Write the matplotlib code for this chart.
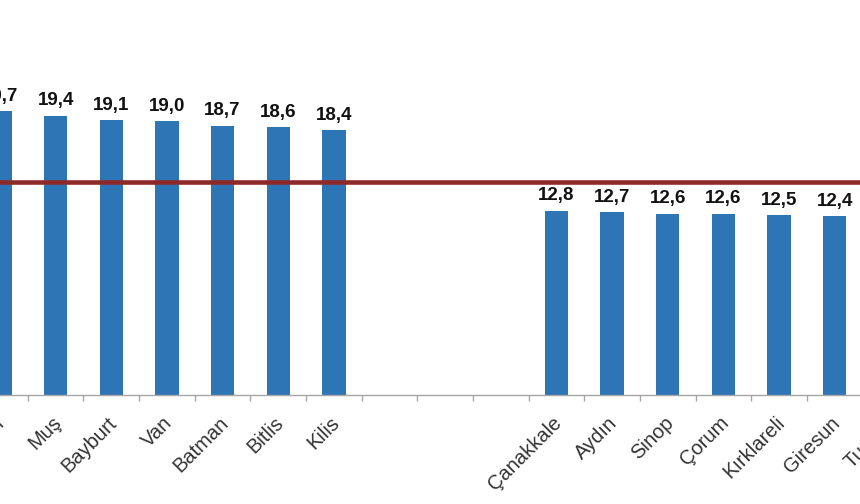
import matplotlib
matplotlib.use('Agg')
import matplotlib.pyplot as plt
from matplotlib.ticker import FixedLocator, NullFormatter

plt.rcParams['font.family'] = ['Liberation Sans', 'DejaVu Sans']

# --- data (chart is a cropped slice: left and right bars are cut by the frame) ---
provinces = ['Ağrı', 'Muş', 'Bayburt', 'Van', 'Batman', 'Bitlis', 'Kilis',
             '', '', '',
             'Çanakkale', 'Aydın', 'Sinop', 'Çorum', 'Kırklareli', 'Giresun', 'Tunceli']
values = [19.7, 19.4, 19.1, 19.0, 18.7, 18.6, 18.4,
          None, None, None,
          12.8, 12.7, 12.6, 12.6, 12.5, 12.4, 12.3]
turkey_avg = 14.8

BAR_COLOR = '#2E75B6'
AVG_COLOR = '#8E2929'

fig = plt.figure(figsize=(8.6, 5.04), dpi=100)
W, H = 860, 504
base_px = 395           # y pixel of the category axis
px_per_unit = 14.4
step = 55.65            # pixels between categories
x0 = 0.0                # pixel of first category centre

ax = fig.add_axes([0, (H - base_px) / H, 1, base_px / H])
ax.set_xlim(-x0 / step, (W - x0) / step)
ax.set_ylim(0, base_px / px_per_unit)

idx = [i for i, v in enumerate(values) if v is not None]
vals = [values[i] for i in idx]
ax.bar(idx, vals, width=0.42, color=BAR_COLOR, zorder=2)

ax.axhline(turkey_avg, color=AVG_COLOR, lw=3.3, zorder=3)

# value labels
for i, v in zip(idx, vals):
    ax.annotate(f'{v:.1f}'.replace('.', ','), xy=(i, v), xytext=(0, 7.5),
                textcoords='offset points', ha='center', va='baseline',
                fontsize=13.5, fontweight='bold', color='#111111')

# category labels, rotated 45 degrees
for i, name in enumerate(provinces):
    if not name:
        continue
    ax.annotate(name, xy=(i, 0), xycoords=('data', 'axes fraction'),
                xytext=(-3, -13), textcoords='offset points',
                rotation=45, rotation_mode='anchor', ha='right', va='top',
                fontsize=14.5, color='#333333', annotation_clip=False)

# axis styling
for s in ['top', 'right', 'left']:
    ax.spines[s].set_visible(False)
ax.spines['bottom'].set_color('#A6A6A6')
ax.spines['bottom'].set_linewidth(1.0)
ax.set_yticks([])
ax.set_xticks([])
ax.xaxis.set_minor_locator(FixedLocator([i + 0.5 for i in range(-1, len(provinces))]))
ax.xaxis.set_minor_formatter(NullFormatter())
ax.tick_params(axis='x', which='minor', length=4, width=1, color='#A6A6A6', direction='out')

fig.savefig('out.png', dpi=100)
